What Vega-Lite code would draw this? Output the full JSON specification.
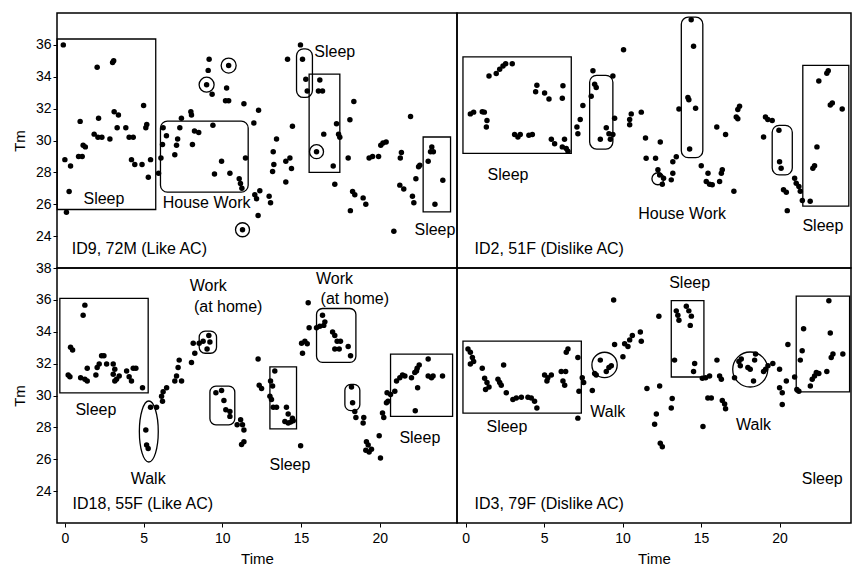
{
  "$schema": "https://vega.github.io/schema/vega-lite/v6.json",
  "background": "white",
  "padding": {"left": 11, "top": 12, "right": 0, "bottom": 0},
  "spacing": 0,
  "bounds": "flush",
  "columns": 2,
  "config": {
    "font": "Liberation Sans",
    "view": {"stroke": "black", "strokeWidth": 1.5},
    "axis": {
      "grid": false, "domain": false, "tickColor": "black", "tickSize": 4,
      "labelColor": "black", "labelFont": "Liberation Sans", "labelFontSize": 14,
      "titleFont": "Liberation Sans", "titleFontSize": 15, "titleFontWeight": "normal", "titleColor": "black"
    },
    "concat": {"spacing": 0}
  },
  "datasets": {
    "pts": [
      {"p":1,"t":-0.1,"v":36.0},{"p":1,"t":0.1,"v":25.5},{"p":1,"t":0.0,"v":28.8},{"p":1,"t":0.36,"v":28.4},{"p":1,"t":0.27,"v":26.8},{"p":1,"t":0.97,"v":31.2},{"p":1,"t":0.87,"v":29.0},{"p":1,"t":1.1,"v":29.0},{"p":1,"t":1.16,"v":29.7},{"p":1,"t":1.3,"v":29.6},{"p":1,"t":2.05,"v":34.6},{"p":1,"t":2.14,"v":31.4},{"p":1,"t":1.86,"v":30.4},{"p":1,"t":2.1,"v":30.2},{"p":1,"t":2.35,"v":30.2},{"p":1,"t":2.86,"v":30.1},{"p":1,"t":3.03,"v":34.9},{"p":1,"t":3.1,"v":35.0},{"p":1,"t":3.13,"v":31.8},{"p":1,"t":3.4,"v":31.6},{"p":1,"t":3.32,"v":30.8},{"p":1,"t":3.87,"v":30.8},{"p":1,"t":4.08,"v":30.2},{"p":1,"t":4.34,"v":30.2},{"p":1,"t":4.23,"v":28.8},{"p":1,"t":4.44,"v":28.5},{"p":1,"t":4.9,"v":28.5},{"p":1,"t":5.0,"v":32.2},{"p":1,"t":5.14,"v":30.8},{"p":1,"t":5.2,"v":31.0},{"p":1,"t":5.3,"v":27.7},{"p":1,"t":5.44,"v":28.8},{"p":1,"t":5.95,"v":27.95},{"p":1,"t":6.1,"v":28.9},{"p":1,"t":6.24,"v":30.8},{"p":1,"t":6.2,"v":29.75},{"p":1,"t":6.45,"v":30.3},{"p":1,"t":6.98,"v":29.1},{"p":1,"t":7.09,"v":29.7},{"p":1,"t":7.16,"v":30.1},{"p":1,"t":7.3,"v":30.8},{"p":1,"t":7.4,"v":31.4},{"p":1,"t":8.04,"v":31.6},{"p":1,"t":8.0,"v":31.8},{"p":1,"t":8.1,"v":29.75},{"p":1,"t":8.23,"v":30.6},{"p":1,"t":8.5,"v":30.5},{"p":1,"t":9.4,"v":30.95},{"p":1,"t":9.16,"v":35.1},{"p":1,"t":9.1,"v":34.4},{"p":1,"t":9.0,"v":33.5},{"p":1,"t":9.35,"v":32.9},{"p":1,"t":9.5,"v":27.9},{"p":1,"t":9.95,"v":28.7},{"p":1,"t":10.4,"v":34.7},{"p":1,"t":10.27,"v":33.3},{"p":1,"t":10.2,"v":32.5},{"p":1,"t":10.4,"v":32.5},{"p":1,"t":10.48,"v":27.95},{"p":1,"t":11.37,"v":32.3},{"p":1,"t":12.3,"v":31.9},{"p":1,"t":12.0,"v":31.1},{"p":1,"t":11.47,"v":28.9},{"p":1,"t":11.07,"v":27.6},{"p":1,"t":11.15,"v":27.3},{"p":1,"t":11.24,"v":27.0},{"p":1,"t":12.06,"v":26.6},{"p":1,"t":12.38,"v":26.85},{"p":1,"t":12.17,"v":26.35},{"p":1,"t":12.97,"v":26.5},{"p":1,"t":13.06,"v":26.1},{"p":1,"t":12.27,"v":25.3},{"p":1,"t":11.28,"v":24.4},{"p":1,"t":13.44,"v":30.1},{"p":1,"t":13.23,"v":29.3},{"p":1,"t":13.27,"v":28.5},{"p":1,"t":13.19,"v":28.05},{"p":1,"t":14.03,"v":28.7},{"p":1,"t":14.29,"v":28.9},{"p":1,"t":14.39,"v":28.25},{"p":1,"t":14.03,"v":27.4},{"p":1,"t":14.45,"v":30.9},{"p":1,"t":14.14,"v":35.1},{"p":1,"t":14.96,"v":36.0},{"p":1,"t":15.09,"v":35.1},{"p":1,"t":15.3,"v":33.85},{"p":1,"t":15.39,"v":33.1},{"p":1,"t":16.19,"v":33.8},{"p":1,"t":16.1,"v":33.1},{"p":1,"t":16.36,"v":33.1},{"p":1,"t":16.44,"v":30.4},{"p":1,"t":17.25,"v":31.05},{"p":1,"t":17.38,"v":30.4},{"p":1,"t":17.46,"v":30.2},{"p":1,"t":15.98,"v":29.3},{"p":1,"t":17.04,"v":28.4},{"p":1,"t":17.14,"v":27.25},{"p":1,"t":17.99,"v":28.9},{"p":1,"t":18.1,"v":31.3},{"p":1,"t":18.35,"v":32.45},{"p":1,"t":18.27,"v":26.8},{"p":1,"t":18.41,"v":26.6},{"p":1,"t":18.94,"v":26.4},{"p":1,"t":19.11,"v":26.0},{"p":1,"t":18.13,"v":25.6},{"p":1,"t":19.32,"v":28.9},{"p":1,"t":19.54,"v":29.0},{"p":1,"t":19.92,"v":29.0},{"p":1,"t":20.06,"v":29.7},{"p":1,"t":20.2,"v":29.85},{"p":1,"t":20.4,"v":29.9},{"p":1,"t":21.37,"v":29.25},{"p":1,"t":21.3,"v":28.9},{"p":1,"t":21.95,"v":31.5},{"p":1,"t":21.27,"v":27.2},{"p":1,"t":21.52,"v":26.95},{"p":1,"t":22.07,"v":26.5},{"p":1,"t":22.16,"v":26.1},{"p":1,"t":22.29,"v":27.6},{"p":1,"t":22.46,"v":28.35},{"p":1,"t":22.54,"v":28.45},{"p":1,"t":20.89,"v":24.3},{"p":1,"t":23.07,"v":28.7},{"p":1,"t":23.22,"v":29.3},{"p":1,"t":23.3,"v":29.6},{"p":1,"t":23.4,"v":29.3},{"p":1,"t":24.0,"v":27.5},{"p":1,"t":23.5,"v":26.0},

      {"p":2,"t":0.3,"v":31.67},{"p":2,"t":0.51,"v":31.78},{"p":2,"t":1.06,"v":31.8},{"p":2,"t":1.19,"v":31.78},{"p":2,"t":1.36,"v":31.26},{"p":2,"t":1.32,"v":30.84},{"p":2,"t":1.49,"v":34.05},{"p":2,"t":1.95,"v":34.2},{"p":2,"t":2.17,"v":34.47},{"p":2,"t":2.38,"v":34.68},{"p":2,"t":2.55,"v":34.82},{"p":2,"t":2.97,"v":34.82},{"p":2,"t":3.12,"v":30.37},{"p":2,"t":3.33,"v":30.22},{"p":2,"t":3.48,"v":30.37},{"p":2,"t":4.03,"v":30.33},{"p":2,"t":4.25,"v":30.37},{"p":2,"t":4.54,"v":33.47},{"p":2,"t":4.46,"v":33.06},{"p":2,"t":5.03,"v":32.98},{"p":2,"t":5.31,"v":32.6},{"p":2,"t":6.2,"v":33.43},{"p":2,"t":6.16,"v":32.65},{"p":2,"t":5.46,"v":30.08},{"p":2,"t":5.67,"v":29.8},{"p":2,"t":6.3,"v":30.08},{"p":2,"t":6.16,"v":29.6},{"p":2,"t":6.41,"v":29.5},{"p":2,"t":6.52,"v":29.33},{"p":2,"t":7.09,"v":30.84},{"p":2,"t":7.15,"v":30.43},{"p":2,"t":7.3,"v":31.32},{"p":2,"t":7.47,"v":32.19},{"p":2,"t":8.11,"v":34.37},{"p":2,"t":8.22,"v":33.53},{"p":2,"t":8.32,"v":33.33},{"p":2,"t":8.0,"v":32.77},{"p":2,"t":9.38,"v":34.05},{"p":2,"t":9.49,"v":31.4},{"p":2,"t":8.96,"v":30.8},{"p":2,"t":9.13,"v":30.43},{"p":2,"t":9.38,"v":30.37},{"p":2,"t":8.58,"v":30.08},{"p":2,"t":9.22,"v":30.08},{"p":2,"t":10.06,"v":35.7},{"p":2,"t":10.55,"v":31.67},{"p":2,"t":10.45,"v":31.32},{"p":2,"t":10.45,"v":30.99},{"p":2,"t":11.19,"v":31.78},{"p":2,"t":11.46,"v":30.16},{"p":2,"t":11.5,"v":28.88},{"p":2,"t":12.1,"v":28.88},{"p":2,"t":12.4,"v":29.9},{"p":2,"t":12.25,"v":28.16},{"p":2,"t":12.36,"v":27.84},{"p":2,"t":12.53,"v":27.26},{"p":2,"t":12.61,"v":27.63},{"p":2,"t":13.1,"v":27.53},{"p":2,"t":13.2,"v":27.94},{"p":2,"t":13.2,"v":28.67},{"p":2,"t":13.42,"v":28.98},{"p":2,"t":13.59,"v":31.98},{"p":2,"t":14.16,"v":32.7},{"p":2,"t":14.22,"v":32.56},{"p":2,"t":14.37,"v":37.57},{"p":2,"t":14.52,"v":35.92},{"p":2,"t":14.65,"v":32.02},{"p":2,"t":14.27,"v":29.46},{"p":2,"t":15.01,"v":28.42},{"p":2,"t":15.44,"v":27.94},{"p":2,"t":15.33,"v":27.43},{"p":2,"t":15.54,"v":27.26},{"p":2,"t":15.71,"v":27.22},{"p":2,"t":16.35,"v":28.16},{"p":2,"t":16.29,"v":27.94},{"p":2,"t":16.18,"v":27.43},{"p":2,"t":16.0,"v":30.84},{"p":2,"t":16.56,"v":30.37},{"p":2,"t":17.09,"v":26.81},{"p":2,"t":17.45,"v":32.15},{"p":2,"t":17.34,"v":31.94},{"p":2,"t":17.24,"v":31.47},{"p":2,"t":17.34,"v":31.36},{"p":2,"t":19.1,"v":31.47},{"p":2,"t":19.25,"v":31.32},{"p":2,"t":19.53,"v":31.26},{"p":2,"t":18.98,"v":30.22},{"p":2,"t":19.96,"v":30.64},{"p":2,"t":20.0,"v":28.67},{"p":2,"t":20.1,"v":28.26},{"p":2,"t":20.25,"v":26.91},{"p":2,"t":20.43,"v":26.76},{"p":2,"t":20.49,"v":25.6},{"p":2,"t":20.96,"v":27.63},{"p":2,"t":21.06,"v":27.32},{"p":2,"t":21.23,"v":27.12},{"p":2,"t":21.32,"v":26.81},{"p":2,"t":21.45,"v":26.23},{"p":2,"t":21.95,"v":26.19},{"p":2,"t":22.12,"v":28.26},{"p":2,"t":22.23,"v":28.42},{"p":2,"t":22.38,"v":29.6},{"p":2,"t":22.5,"v":33.74},{"p":2,"t":23.01,"v":34.22},{"p":2,"t":23.1,"v":34.37},{"p":2,"t":23.23,"v":32.23},{"p":2,"t":23.36,"v":32.36},{"p":2,"t":23.99,"v":31.98},

      {"p":3,"t":0.21,"v":31.29},{"p":3,"t":0.32,"v":31.17},{"p":3,"t":0.36,"v":33.03},{"p":3,"t":0.49,"v":32.86},{"p":3,"t":1.27,"v":35.67},{"p":3,"t":1.16,"v":35.03},{"p":3,"t":1.0,"v":31.12},{"p":3,"t":1.27,"v":31.02},{"p":3,"t":1.42,"v":30.91},{"p":3,"t":1.42,"v":31.71},{"p":3,"t":1.97,"v":31.29},{"p":3,"t":2.05,"v":31.76},{"p":3,"t":2.18,"v":31.97},{"p":3,"t":2.33,"v":32.5},{"p":3,"t":2.48,"v":32.5},{"p":3,"t":2.65,"v":31.97},{"p":3,"t":3.07,"v":31.97},{"p":3,"t":3.17,"v":31.65},{"p":3,"t":3.07,"v":31.33},{"p":3,"t":3.28,"v":31.02},{"p":3,"t":3.17,"v":30.91},{"p":3,"t":3.45,"v":31.23},{"p":3,"t":3.92,"v":31.54},{"p":3,"t":4.08,"v":31.17},{"p":3,"t":4.23,"v":30.91},{"p":3,"t":4.34,"v":31.71},{"p":3,"t":4.51,"v":31.71},{"p":3,"t":4.93,"v":30.49},{"p":3,"t":5.14,"v":27.84},{"p":3,"t":5.19,"v":26.89},{"p":3,"t":5.29,"v":26.68},{"p":3,"t":5.44,"v":29.26},{"p":3,"t":5.82,"v":29.26},{"p":3,"t":6.14,"v":29.96},{"p":3,"t":6.24,"v":30.23},{"p":3,"t":6.46,"v":30.49},{"p":3,"t":6.2,"v":29.64},{"p":3,"t":7.09,"v":31.23},{"p":3,"t":7.19,"v":31.76},{"p":3,"t":7.26,"v":32.22},{"p":3,"t":6.98,"v":30.91},{"p":3,"t":7.41,"v":30.91},{"p":3,"t":8.04,"v":32.07},{"p":3,"t":8.25,"v":32.65},{"p":3,"t":8.15,"v":33.28},{"p":3,"t":8.53,"v":33.28},{"p":3,"t":8.78,"v":33.41},{"p":3,"t":9.14,"v":33.77},{"p":3,"t":9.21,"v":33.35},{"p":3,"t":9.03,"v":32.92},{"p":3,"t":9.59,"v":30.17},{"p":3,"t":9.95,"v":30.32},{"p":3,"t":10.1,"v":29.68},{"p":3,"t":10.22,"v":29.11},{"p":3,"t":10.48,"v":29.0},{"p":3,"t":10.48,"v":28.69},{"p":3,"t":10.94,"v":28.16},{"p":3,"t":11.16,"v":28.48},{"p":3,"t":11.28,"v":28.16},{"p":3,"t":11.37,"v":27.84},{"p":3,"t":11.22,"v":26.93},{"p":3,"t":11.37,"v":27.1},{"p":3,"t":12.27,"v":32.29},{"p":3,"t":12.34,"v":30.65},{"p":3,"t":12.49,"v":30.44},{"p":3,"t":13.33,"v":31.54},{"p":3,"t":13.06,"v":30.91},{"p":3,"t":13.19,"v":30.59},{"p":3,"t":13.02,"v":29.96},{"p":3,"t":13.12,"v":29.75},{"p":3,"t":13.23,"v":29.26},{"p":3,"t":13.44,"v":29.26},{"p":3,"t":14.07,"v":29.26},{"p":3,"t":14.18,"v":28.84},{"p":3,"t":13.97,"v":28.37},{"p":3,"t":14.18,"v":28.27},{"p":3,"t":14.33,"v":28.33},{"p":3,"t":14.5,"v":28.41},{"p":3,"t":14.45,"v":28.58},{"p":3,"t":14.97,"v":26.85},{"p":3,"t":15.09,"v":32.65},{"p":3,"t":15.03,"v":33.28},{"p":3,"t":15.24,"v":33.41},{"p":3,"t":15.39,"v":33.24},{"p":3,"t":15.45,"v":35.82},{"p":3,"t":15.51,"v":34.25},{"p":3,"t":15.98,"v":34.25},{"p":3,"t":16.19,"v":34.34},{"p":3,"t":16.36,"v":35.04},{"p":3,"t":16.51,"v":34.62},{"p":3,"t":16.44,"v":34.4},{"p":3,"t":17.0,"v":33.98},{"p":3,"t":17.14,"v":33.77},{"p":3,"t":17.29,"v":33.41},{"p":3,"t":17.5,"v":33.41},{"p":3,"t":17.14,"v":32.92},{"p":3,"t":17.42,"v":32.92},{"p":3,"t":17.99,"v":33.07},{"p":3,"t":18.14,"v":32.5},{"p":3,"t":18.2,"v":30.53},{"p":3,"t":18.27,"v":29.54},{"p":3,"t":18.41,"v":29.0},{"p":3,"t":18.48,"v":28.62},{"p":3,"t":18.98,"v":28.62},{"p":3,"t":18.94,"v":28.27},{"p":3,"t":19.15,"v":27.1},{"p":3,"t":19.26,"v":26.89},{"p":3,"t":19.11,"v":26.57},{"p":3,"t":19.32,"v":26.46},{"p":3,"t":19.47,"v":26.63},{"p":3,"t":19.96,"v":27.48},{"p":3,"t":20.04,"v":26.08},{"p":3,"t":20.17,"v":28.9},{"p":3,"t":20.25,"v":28.62},{"p":3,"t":20.42,"v":29.54},{"p":3,"t":20.52,"v":29.64},{"p":3,"t":20.68,"v":30.06},{"p":3,"t":20.46,"v":30.17},{"p":3,"t":20.95,"v":30.27},{"p":3,"t":21.06,"v":30.91},{"p":3,"t":21.27,"v":31.12},{"p":3,"t":21.44,"v":31.29},{"p":3,"t":21.59,"v":31.23},{"p":3,"t":22.01,"v":31.12},{"p":3,"t":22.22,"v":31.44},{"p":3,"t":22.37,"v":31.71},{"p":3,"t":22.5,"v":31.92},{"p":3,"t":22.33,"v":31.54},{"p":3,"t":23.07,"v":32.29},{"p":3,"t":22.4,"v":30.49},{"p":3,"t":22.25,"v":29.05},{"p":3,"t":23.07,"v":31.23},{"p":3,"t":23.28,"v":31.12},{"p":3,"t":23.38,"v":31.23},{"p":3,"t":23.98,"v":31.23},

      {"p":4,"t":0.15,"v":32.92},{"p":4,"t":0.3,"v":32.71},{"p":4,"t":0.43,"v":32.39},{"p":4,"t":0.3,"v":31.97},{"p":4,"t":0.51,"v":32.14},{"p":4,"t":1.06,"v":31.71},{"p":4,"t":1.21,"v":31.08},{"p":4,"t":1.36,"v":30.81},{"p":4,"t":1.27,"v":30.38},{"p":4,"t":1.49,"v":30.53},{"p":4,"t":2.06,"v":31.02},{"p":4,"t":2.17,"v":30.81},{"p":4,"t":2.27,"v":30.65},{"p":4,"t":2.42,"v":31.92},{"p":4,"t":2.59,"v":30.17},{"p":4,"t":3.01,"v":29.75},{"p":4,"t":3.23,"v":29.85},{"p":4,"t":3.55,"v":29.89},{"p":4,"t":3.97,"v":29.89},{"p":4,"t":4.18,"v":29.85},{"p":4,"t":4.39,"v":29.64},{"p":4,"t":4.54,"v":29.22},{"p":4,"t":5.03,"v":31.29},{"p":4,"t":5.24,"v":31.12},{"p":4,"t":5.46,"v":31.29},{"p":4,"t":5.18,"v":30.91},{"p":4,"t":6.09,"v":31.5},{"p":4,"t":6.37,"v":31.5},{"p":4,"t":6.2,"v":30.91},{"p":4,"t":6.31,"v":30.65},{"p":4,"t":6.41,"v":32.71},{"p":4,"t":6.52,"v":32.92},{"p":4,"t":7.15,"v":32.39},{"p":4,"t":7.43,"v":31.12},{"p":4,"t":7.52,"v":30.81},{"p":4,"t":7.22,"v":30.27},{"p":4,"t":7.15,"v":28.58},{"p":4,"t":8.07,"v":30.32},{"p":4,"t":8.22,"v":31.38},{"p":4,"t":8.32,"v":31.29},{"p":4,"t":8.58,"v":32.22},{"p":4,"t":8.96,"v":31.5},{"p":4,"t":9.13,"v":31.76},{"p":4,"t":9.28,"v":31.86},{"p":4,"t":9.43,"v":35.99},{"p":4,"t":9.49,"v":33.2},{"p":4,"t":10.02,"v":32.43},{"p":4,"t":10.13,"v":33.24},{"p":4,"t":10.34,"v":33.07},{"p":4,"t":10.45,"v":33.49},{"p":4,"t":10.62,"v":33.77},{"p":4,"t":11.13,"v":33.98},{"p":4,"t":11.19,"v":33.41},{"p":4,"t":11.55,"v":30.44},{"p":4,"t":12.31,"v":34.97},{"p":4,"t":12.15,"v":28.84},{"p":4,"t":12.04,"v":28.2},{"p":4,"t":12.4,"v":27.0},{"p":4,"t":12.53,"v":26.78},{"p":4,"t":12.36,"v":30.59},{"p":4,"t":13.16,"v":29.81},{"p":4,"t":13.1,"v":29.22},{"p":4,"t":13.42,"v":35.31},{"p":4,"t":13.52,"v":35.04},{"p":4,"t":13.59,"v":34.72},{"p":4,"t":14.06,"v":35.6},{"p":4,"t":14.22,"v":35.31},{"p":4,"t":14.38,"v":34.98},{"p":4,"t":14.31,"v":34.4},{"p":4,"t":13.31,"v":32.22},{"p":4,"t":14.59,"v":32.01},{"p":4,"t":14.52,"v":31.5},{"p":4,"t":15.08,"v":31.08},{"p":4,"t":15.29,"v":31.12},{"p":4,"t":15.54,"v":31.23},{"p":4,"t":15.43,"v":29.85},{"p":4,"t":15.65,"v":29.85},{"p":4,"t":15.12,"v":28.05},{"p":4,"t":16.01,"v":32.22},{"p":4,"t":16.18,"v":31.23},{"p":4,"t":16.29,"v":31.02},{"p":4,"t":16.35,"v":29.68},{"p":4,"t":16.5,"v":29.47},{"p":4,"t":16.56,"v":29.17},{"p":4,"t":17.13,"v":31.12},{"p":4,"t":17.41,"v":32.14},{"p":4,"t":17.56,"v":32.29},{"p":4,"t":17.5,"v":31.86},{"p":4,"t":17.98,"v":31.76},{"p":4,"t":18.13,"v":31.65},{"p":4,"t":18.47,"v":32.6},{"p":4,"t":18.41,"v":32.22},{"p":4,"t":18.34,"v":30.91},{"p":4,"t":18.98,"v":31.5},{"p":4,"t":19.11,"v":31.65},{"p":4,"t":19.26,"v":31.86},{"p":4,"t":19.57,"v":32.01},{"p":4,"t":20.0,"v":31.65},{"p":4,"t":20.0,"v":30.49},{"p":4,"t":20.17,"v":30.17},{"p":4,"t":20.17,"v":29.43},{"p":4,"t":20.43,"v":30.91},{"p":4,"t":20.53,"v":33.2},{"p":4,"t":20.96,"v":31.16},{"p":4,"t":21.1,"v":30.38},{"p":4,"t":21.23,"v":30.27},{"p":4,"t":21.53,"v":34.19},{"p":4,"t":21.44,"v":32.81},{"p":4,"t":21.32,"v":32.22},{"p":4,"t":21.96,"v":30.59},{"p":4,"t":22.08,"v":31.02},{"p":4,"t":22.23,"v":31.23},{"p":4,"t":22.34,"v":31.44},{"p":4,"t":22.5,"v":31.38},{"p":4,"t":23.01,"v":31.5},{"p":4,"t":23.14,"v":35.95},{"p":4,"t":23.23,"v":33.92},{"p":4,"t":23.29,"v":32.39},{"p":4,"t":23.4,"v":32.6},{"p":4,"t":24.03,"v":32.6}
    ],
    "boxes": [
      {"p":1,"r":0,"t":-0.49,"t2":5.77,"v":25.67,"v2":36.37},
      {"p":1,"r":1,"t":6.07,"t2":11.64,"v":26.76,"v2":31.22},
      {"p":1,"r":1,"t":14.71,"t2":15.72,"v":32.7,"v2":35.75},
      {"p":1,"r":0,"t":15.51,"t2":17.46,"v":28.0,"v2":34.16},
      {"p":1,"r":0,"t":22.75,"t2":24.49,"v":25.52,"v2":30.22},
      {"p":2,"r":0,"t":-0.17,"t2":6.73,"v":29.19,"v2":35.25},
      {"p":2,"r":1,"t":7.9,"t2":9.38,"v":29.46,"v2":34.09},
      {"p":2,"r":1,"t":13.74,"t2":15.11,"v":28.92,"v2":37.74},
      {"p":2,"r":1,"t":19.53,"t2":20.81,"v":27.84,"v2":30.95},
      {"p":2,"r":0,"t":21.48,"t2":24.41,"v":25.88,"v2":34.71},
      {"p":3,"r":0,"t":-0.32,"t2":5.29,"v":30.17,"v2":36.1},
      {"p":3,"r":1,"t":8.53,"t2":9.63,"v":32.65,"v2":34.04},
      {"p":3,"r":1,"t":9.21,"t2":10.79,"v":28.16,"v2":30.59},
      {"p":3,"r":0,"t":13.02,"t2":14.71,"v":27.9,"v2":31.8},
      {"p":3,"r":1,"t":15.98,"t2":18.48,"v":32.08,"v2":35.46},
      {"p":3,"r":1,"t":17.78,"t2":18.73,"v":29.05,"v2":30.7},
      {"p":3,"r":0,"t":20.68,"t2":24.62,"v":28.69,"v2":32.6},
      {"p":4,"r":0,"t":-0.17,"t2":7.37,"v":28.9,"v2":33.41},
      {"p":4,"r":0,"t":13.1,"t2":15.18,"v":31.16,"v2":35.95},
      {"p":4,"r":0,"t":21.06,"t2":24.46,"v":30.23,"v2":36.24}
    ],
    "rings": [
      {"p":1,"t":9.0,"v":33.5,"s":225,"sh":"circle"},
      {"p":1,"t":10.4,"v":34.7,"s":225,"sh":"circle"},
      {"p":1,"t":15.98,"v":29.3,"s":196,"sh":"circle"},
      {"p":1,"t":11.28,"v":24.4,"s":196,"sh":"circle"},
      {"p":2,"t":12.25,"v":27.6,"s":144,"sh":"circle"},
      {"p":3,"t":5.33,"v":27.74,"s":3721,"sh":"M0,-1A0.31,1,0,1,1,0,1A0.31,1,0,1,1,0,-1Z"},
      {"p":4,"t":8.85,"v":31.92,"s":640,"sh":"circle"},
      {"p":4,"t":18.13,"v":31.63,"s":1225,"sh":"circle"}
    ],
    "notes": [
      {"p":1,"a":"c","t":2.48,"v":26.3,"txt":"Sleep"},
      {"p":1,"a":"c","t":9.0,"v":26.06,"txt":"House Work"},
      {"p":1,"a":"c","t":17.14,"v":35.55,"txt":"Sleep"},
      {"p":1,"a":"c","t":23.5,"v":24.4,"txt":"Sleep"},
      {"p":1,"a":"l","t":0.44,"v":23.2,"txt":"ID9, 72M (Like AC)"},
      {"p":2,"a":"c","t":2.7,"v":27.84,"txt":"Sleep"},
      {"p":2,"a":"c","t":13.79,"v":25.36,"txt":"House Work"},
      {"p":2,"a":"c","t":22.76,"v":24.63,"txt":"Sleep"},
      {"p":2,"a":"l","t":0.57,"v":23.18,"txt":"ID2, 51F (Dislike  AC)"},
      {"p":3,"a":"c","t":1.97,"v":29.11,"txt":"Sleep"},
      {"p":3,"a":"c","t":5.29,"v":24.77,"txt":"Walk"},
      {"p":3,"a":"c","t":9.1,"v":36.84,"txt":"Work"},
      {"p":3,"a":"c","t":10.37,"v":35.57,"txt":"(at home)"},
      {"p":3,"a":"c","t":14.29,"v":25.66,"txt":"Sleep"},
      {"p":3,"a":"c","t":17.12,"v":37.3,"txt":"Work"},
      {"p":3,"a":"c","t":18.41,"v":36.03,"txt":"(at home)"},
      {"p":3,"a":"c","t":22.54,"v":27.35,"txt":"Sleep"},
      {"p":3,"a":"l","t":0.49,"v":23.19,"txt":"ID18, 55F (Like AC)"},
      {"p":4,"a":"c","t":2.63,"v":28.05,"txt":"Sleep"},
      {"p":4,"a":"c","t":9.06,"v":28.96,"txt":"Walk"},
      {"p":4,"a":"c","t":14.27,"v":37.05,"txt":"Sleep"},
      {"p":4,"a":"c","t":18.34,"v":28.16,"txt":"Walk"},
      {"p":4,"a":"c","t":22.72,"v":24.73,"txt":"Sleep"},
      {"p":4,"a":"l","t":0.57,"v":23.19,"txt":"ID3, 79F (Dislike  AC)"}
    ]
  },
  "concat": [
    {
      "width": 400, "height": 255,
      "encoding": {
        "x": {"field": "t", "type": "quantitative", "scale": {"domain": [-0.5, 24.9], "nice": false, "zero": false}, "axis": null},
        "y": {"field": "v", "type": "quantitative", "scale": {"domain": [22, 38], "nice": false, "zero": false}, "axis": {"title": "Tm", "values": [24, 26, 28, 30, 32, 34, 36], "labelPadding": 2, "titlePadding": 8}}
      },
      "layer": [
        {"data": {"name": "boxes"}, "transform": [{"filter": "datum.p == 1 && datum.r == 0"}], "mark": {"type": "rect", "fillOpacity": 0, "stroke": "black", "strokeWidth": 1.3}, "encoding": {"x2": {"field": "t2"}, "y2": {"field": "v2"}}},
        {"data": {"name": "boxes"}, "transform": [{"filter": "datum.p == 1 && datum.r == 1"}], "mark": {"type": "rect", "fillOpacity": 0, "stroke": "black", "strokeWidth": 1.3, "cornerRadius": 7}, "encoding": {"x2": {"field": "t2"}, "y2": {"field": "v2"}}},
        {"data": {"name": "rings"}, "transform": [{"filter": "datum.p == 1"}], "mark": {"type": "point", "filled": false, "stroke": "black", "strokeWidth": 1.3, "opacity": 1}, "encoding": {"size": {"field": "s", "type": "quantitative", "scale": null}, "shape": {"field": "sh", "type": "nominal", "scale": null}}},
        {"data": {"name": "pts"}, "transform": [{"filter": "datum.p == 1"}], "mark": {"type": "circle", "size": 30, "color": "black", "opacity": 1}},
        {"data": {"name": "notes"}, "transform": [{"filter": "datum.p == 1 && datum.a == 'c'"}], "mark": {"type": "text", "font": "Liberation Sans", "fontSize": 16, "color": "black", "align": "center", "baseline": "middle"}, "encoding": {"text": {"field": "txt"}}},
        {"data": {"name": "notes"}, "transform": [{"filter": "datum.p == 1 && datum.a == 'l'"}], "mark": {"type": "text", "font": "Liberation Sans", "fontSize": 16, "color": "black", "align": "left", "baseline": "middle"}, "encoding": {"text": {"field": "txt"}}}
      ]
    },
    {
      "width": 394, "height": 255,
      "encoding": {
        "x": {"field": "t", "type": "quantitative", "scale": {"domain": [-0.55, 24.55], "nice": false, "zero": false}, "axis": null},
        "y": {"field": "v", "type": "quantitative", "scale": {"domain": [22, 38], "nice": false, "zero": false}, "axis": null}
      },
      "layer": [
        {"data": {"name": "boxes"}, "transform": [{"filter": "datum.p == 2 && datum.r == 0"}], "mark": {"type": "rect", "fillOpacity": 0, "stroke": "black", "strokeWidth": 1.3}, "encoding": {"x2": {"field": "t2"}, "y2": {"field": "v2"}}},
        {"data": {"name": "boxes"}, "transform": [{"filter": "datum.p == 2 && datum.r == 1"}], "mark": {"type": "rect", "fillOpacity": 0, "stroke": "black", "strokeWidth": 1.3, "cornerRadius": 7}, "encoding": {"x2": {"field": "t2"}, "y2": {"field": "v2"}}},
        {"data": {"name": "rings"}, "transform": [{"filter": "datum.p == 2"}], "mark": {"type": "point", "filled": false, "stroke": "black", "strokeWidth": 1.3, "opacity": 1}, "encoding": {"size": {"field": "s", "type": "quantitative", "scale": null}, "shape": {"field": "sh", "type": "nominal", "scale": null}}},
        {"data": {"name": "pts"}, "transform": [{"filter": "datum.p == 2"}], "mark": {"type": "circle", "size": 30, "color": "black", "opacity": 1}},
        {"data": {"name": "notes"}, "transform": [{"filter": "datum.p == 2 && datum.a == 'c'"}], "mark": {"type": "text", "font": "Liberation Sans", "fontSize": 16, "color": "black", "align": "center", "baseline": "middle"}, "encoding": {"text": {"field": "txt"}}},
        {"data": {"name": "notes"}, "transform": [{"filter": "datum.p == 2 && datum.a == 'l'"}], "mark": {"type": "text", "font": "Liberation Sans", "fontSize": 16, "color": "black", "align": "left", "baseline": "middle"}, "encoding": {"text": {"field": "txt"}}}
      ]
    },
    {
      "width": 400, "height": 255,
      "encoding": {
        "x": {"field": "t", "type": "quantitative", "scale": {"domain": [-0.5, 24.9], "nice": false, "zero": false}, "axis": {"title": "Time", "values": [0, 5, 10, 15, 20], "labelPadding": 4, "titlePadding": 6}},
        "y": {"field": "v", "type": "quantitative", "scale": {"domain": [22, 38], "nice": false, "zero": false}, "axis": {"title": "Tm", "values": [24, 26, 28, 30, 32, 34, 36, 38], "labelPadding": 2, "titlePadding": 8}}
      },
      "layer": [
        {"data": {"name": "boxes"}, "transform": [{"filter": "datum.p == 3 && datum.r == 0"}], "mark": {"type": "rect", "fillOpacity": 0, "stroke": "black", "strokeWidth": 1.3}, "encoding": {"x2": {"field": "t2"}, "y2": {"field": "v2"}}},
        {"data": {"name": "boxes"}, "transform": [{"filter": "datum.p == 3 && datum.r == 1"}], "mark": {"type": "rect", "fillOpacity": 0, "stroke": "black", "strokeWidth": 1.3, "cornerRadius": 6}, "encoding": {"x2": {"field": "t2"}, "y2": {"field": "v2"}}},
        {"data": {"name": "rings"}, "transform": [{"filter": "datum.p == 3"}], "mark": {"type": "point", "filled": false, "stroke": "black", "strokeWidth": 1.3, "opacity": 1}, "encoding": {"size": {"field": "s", "type": "quantitative", "scale": null}, "shape": {"field": "sh", "type": "nominal", "scale": null}}},
        {"data": {"name": "pts"}, "transform": [{"filter": "datum.p == 3"}], "mark": {"type": "circle", "size": 30, "color": "black", "opacity": 1}},
        {"data": {"name": "notes"}, "transform": [{"filter": "datum.p == 3 && datum.a == 'c'"}], "mark": {"type": "text", "font": "Liberation Sans", "fontSize": 16, "color": "black", "align": "center", "baseline": "middle"}, "encoding": {"text": {"field": "txt"}}},
        {"data": {"name": "notes"}, "transform": [{"filter": "datum.p == 3 && datum.a == 'l'"}], "mark": {"type": "text", "font": "Liberation Sans", "fontSize": 16, "color": "black", "align": "left", "baseline": "middle"}, "encoding": {"text": {"field": "txt"}}}
      ]
    },
    {
      "width": 394, "height": 255,
      "encoding": {
        "x": {"field": "t", "type": "quantitative", "scale": {"domain": [-0.55, 24.55], "nice": false, "zero": false}, "axis": {"title": "Time", "values": [0, 5, 10, 15, 20], "labelPadding": 4, "titlePadding": 6}},
        "y": {"field": "v", "type": "quantitative", "scale": {"domain": [22, 38], "nice": false, "zero": false}, "axis": null}
      },
      "layer": [
        {"data": {"name": "boxes"}, "transform": [{"filter": "datum.p == 4 && datum.r == 0"}], "mark": {"type": "rect", "fillOpacity": 0, "stroke": "black", "strokeWidth": 1.3}, "encoding": {"x2": {"field": "t2"}, "y2": {"field": "v2"}}},
        {"data": {"name": "rings"}, "transform": [{"filter": "datum.p == 4"}], "mark": {"type": "point", "filled": false, "stroke": "black", "strokeWidth": 1.3, "opacity": 1}, "encoding": {"size": {"field": "s", "type": "quantitative", "scale": null}, "shape": {"field": "sh", "type": "nominal", "scale": null}}},
        {"data": {"name": "pts"}, "transform": [{"filter": "datum.p == 4"}], "mark": {"type": "circle", "size": 30, "color": "black", "opacity": 1}},
        {"data": {"name": "notes"}, "transform": [{"filter": "datum.p == 4 && datum.a == 'c'"}], "mark": {"type": "text", "font": "Liberation Sans", "fontSize": 16, "color": "black", "align": "center", "baseline": "middle"}, "encoding": {"text": {"field": "txt"}}},
        {"data": {"name": "notes"}, "transform": [{"filter": "datum.p == 4 && datum.a == 'l'"}], "mark": {"type": "text", "font": "Liberation Sans", "fontSize": 16, "color": "black", "align": "left", "baseline": "middle"}, "encoding": {"text": {"field": "txt"}}}
      ]
    }
  ]
}
